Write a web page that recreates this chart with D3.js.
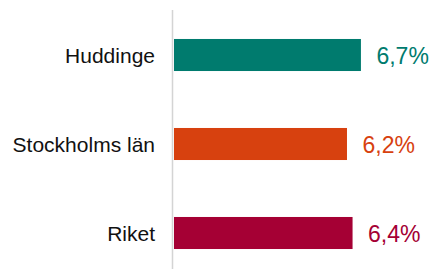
<!DOCTYPE html>
<html>
<head>
<meta charset="utf-8">
<script src="https://cdn.jsdelivr.net/npm/d3@7"></script>
<style>
  html, body { margin: 0; padding: 0; background: #fff; }
  text { font-family: "Liberation Sans", Arial, sans-serif; }
</style>
</head>
<body>
<svg id="mainsvg" width="432" height="269"></svg>
<script>
// data
let categories = ["Huddinge", "Stockholms län", "Riket"];
let values = [6.7, 6.2, 6.4];
let colors = ["#007b6e", "#d7410f", "#a50034"];

let svg = d3.select("#mainsvg");
let margin = {left: 174, top: 10};

let x = d3.scaleLinear()
    .domain([0, 1])
    .range([margin.left, margin.left + 27.9]);

let y = d3.scaleBand()
    .domain(categories)
    .range([10.5, 277.5])
    .paddingInner(0.64)
    .paddingOuter(0.32);

// vertical axis line
svg.append("line")
    .attr("x1", margin.left - 1.5).attr("x2", margin.left - 1.5)
    .attr("y1", margin.top).attr("y2", 269)
    .attr("stroke", "#d4d4d4")
    .attr("stroke-width", 1.5);

let rows = categories.map((c, i) => ({name: c, value: values[i], color: colors[i]}));

// bars
svg.selectAll(".bar").data(rows).enter()
    .append("rect")
    .attr("class", "bar")
    .attr("x", x(0))
    .attr("y", d => y(d.name))
    .attr("width", d => x(d.value) - x(0))
    .attr("height", y.bandwidth())
    .attr("fill", d => d.color);

// category labels
svg.selectAll(".cat").data(rows).enter()
    .append("text")
    .attr("class", "cat")
    .attr("x", margin.left - 19)
    .attr("y", d => y(d.name) + y.bandwidth() / 2)
    .attr("dy", "0.36em")
    .attr("text-anchor", "end")
    .attr("font-size", 21)
    .attr("fill", "#111")
    .text(d => d.name);

// value labels
svg.selectAll(".val").data(rows).enter()
    .append("text")
    .attr("class", "val")
    .attr("x", d => x(d.value) + 15.5)
    .attr("y", d => y(d.name) + y.bandwidth() / 2)
    .attr("dy", "0.38em")
    .attr("font-size", 23)
    .attr("fill", d => d.color)
    .text(d => d3.format(".1f")(d.value).replace(".", ",") + "%");
</script>
</body>
</html>
